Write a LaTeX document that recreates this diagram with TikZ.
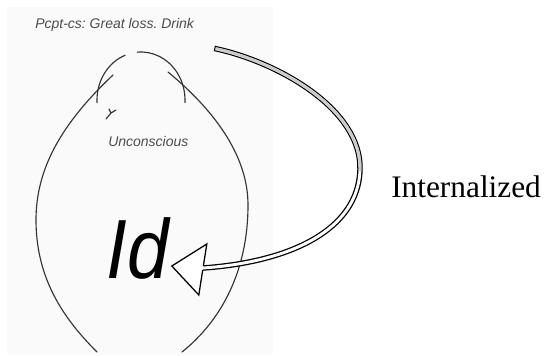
\documentclass[tikz,border=0pt]{standalone}
\usepackage{fontspec}
\setmainfont{Liberation Serif}
\setsansfont{Liberation Sans}
\usetikzlibrary{calc}
\definecolor{fafafa}{rgb}{0.98,0.98,0.98}
\definecolor{sssggg}{rgb}{0.2,0.2,0.2}
\definecolor{qqqqgg}{rgb}{0.3,0.3,0.3}
\definecolor{cccccc}{rgb}{0.8,0.8,0.8}
\begin{document}
\begin{tikzpicture}[line cap=round,line join=round,x=0.75pt,y=-0.75pt,
  sketch/.style={sssggg,line width=0.85pt},
  lbl/.style={font=\sffamily\itshape\fontsize{10.5}{12}\selectfont,text=qqqqgg,inner sep=0pt},
  band/.style={line width=0.95pt,double=white,double distance=2.2pt,line cap=rect}]
\useasboundingbox (0,0) rectangle (544,355);
\fill[fafafa] (7,7) rectangle (273,355);
% egg
\draw[sketch] (113,75) .. controls (60,125) and (36,170) .. (36,220) .. controls (36,280) and (65,320) .. (97,352);
\draw[sketch] (168,72) .. controls (220,115) and (248,160) .. (248,205) .. controls (248,270) and (222,320) .. (182,352);
% cap
\draw[sketch] (141,100) ++(-183:44 and 48) arc[start angle=-183,end angle=-111,x radius=44,y radius=48];
\draw[sketch] (141,100) ++(-95:44 and 48) arc[start angle=-95,end angle=3,x radius=44,y radius=48];
\draw[sketch] (106,119) -- (111,113) -- (109,109);
\draw[sketch] (111,113) -- (116,110);
\node[lbl,anchor=base west] (pcpt) at (35,28) {Pcpt-cs:\ Great loss.\ Drink};
\node[lbl,anchor=base west] (uncon) at (108,146) {Unconscious};
\node[font=\sffamily\itshape\fontsize{63}{63}\selectfont,xscale=0.89,inner sep=0pt,anchor=base west] (id) at (106,278) {Id};
\node[font=\fontsize{23.5}{26}\selectfont,inner sep=0pt,anchor=base west] (intern) at (391,197) {Internalized};
% arrow
\coordinate (start) at (217,49);
\coordinate (bend) at (360,170);
\coordinate (tip) at ($(id.base east)+(3,-12)$);
\coordinate (send) at ($(tip)+(31.2,2)$);
\draw[band] (start) .. controls (280,63) and (362,110) .. (bend) .. controls (358,230) and (290,262) .. (send);
\draw[cccccc,line width=2.2pt,line cap=rect] (start) .. controls (280,63) and (362,110) .. (bend);
\fill[white] (tip) -- ($(tip)+(35,-22)$) -- ($(tip)+(27,29)$) -- cycle;
\draw[line width=0.95pt,line join=miter] ($(tip)+(31.6,-0.5)$) -- ($(tip)+(35,-22)$) -- (tip) -- ($(tip)+(27,29)$) -- ($(tip)+(30.8,4.5)$);
\end{tikzpicture}
\end{document}
